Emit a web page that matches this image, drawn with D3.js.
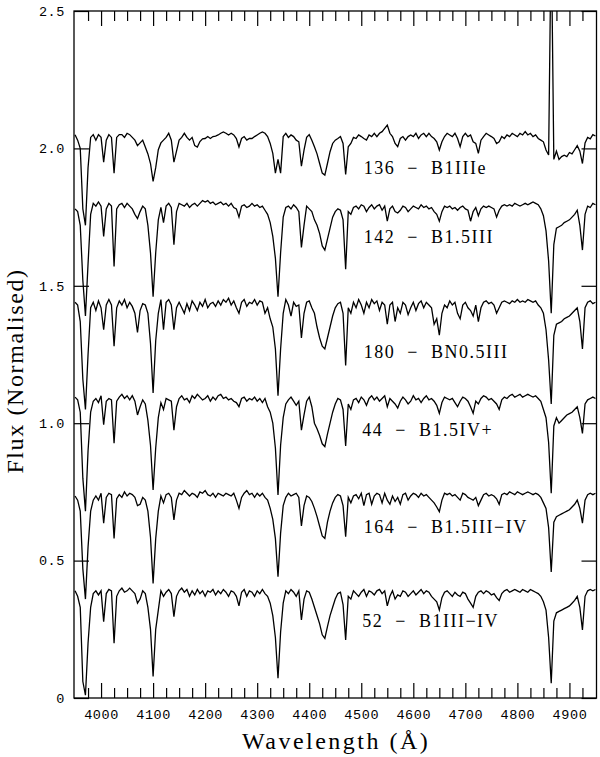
<!DOCTYPE html>
<html>
<head>
<meta charset="utf-8">
<script src="https://cdn.jsdelivr.net/npm/d3@7"></script>
<style>
html, body { margin: 0; padding: 0; background: #ffffff; }
svg { display: block; }
</style>
</head>
<body>
<svg id="chart" width="600" height="757"></svg>
<script>
// ---- DATA ----
// wavelength grid of the spectra (Angstrom), 5 A sampling
const wavelengths = d3.range(3950, 4951, 5);

const flux136 = [
2.05,2.03,2.00,1.78,1.72,1.93,2.04,2.05,2.03,2.05,
2.04,1.95,2.03,2.05,2.04,1.91,2.04,2.05,2.05,2.04,
2.055,2.05,2.04,2.03,2.01,2.02,2.03,2.005,1.98,1.945,
1.88,1.93,1.995,2.02,2.03,2.04,2.055,2.03,1.95,1.99,
2.03,2.04,2.055,2.04,2.03,2.04,2.01,2.005,2.025,2.035,
2.036,2.043,2.036,2.043,2.045,2.049,2.055,2.06,2.055,2.049,
2.055,2.049,2.036,2.005,2.036,2.043,2.03,2.036,2.036,2.043,
2.049,2.055,2.06,2.055,2.043,2.018,1.982,1.91,1.96,1.91,
2.043,2.055,2.04,2.049,2.043,2.03,2.024,1.935,1.994,2.04,
2.05,2.03,2.006,1.98,1.945,1.91,1.903,1.945,1.988,2.018,
2.03,2.036,2.043,2.018,1.905,2.006,2.018,2.04,2.036,2.049,
2.043,2.036,2.03,2.049,2.043,2.055,2.043,2.055,2.061,2.073,
2.085,2.055,2.043,2.018,2.006,2.036,2.043,2.03,2.043,2.049,
2.043,2.055,2.036,2.049,2.055,2.043,2.055,2.043,2.036,2.024,
1.994,2.024,2.043,2.055,2.049,2.043,2.055,2.036,2.006,2.043,
2.055,2.043,2.049,2.024,2.018,1.982,2.03,2.043,2.055,2.049,
2.043,2.036,2.018,2.024,2.043,2.036,2.049,2.043,2.055,2.049,
2.043,2.055,2.049,2.061,2.049,2.055,2.043,2.049,2.036,2.03,
2.024,1.994,1.976,2.80,1.96,1.99,1.96,1.97,1.975,1.97,
1.985,1.98,1.995,2.01,1.99,1.945,2.02,2.04,2.035,2.05,
2.045
];

const flux142 = [
1.78,1.77,1.72,1.52,1.39,1.58,1.76,1.80,1.79,1.805,
1.79,1.68,1.78,1.80,1.79,1.57,1.78,1.795,1.80,1.785,
1.80,1.79,1.78,1.76,1.745,1.77,1.79,1.78,1.72,1.62,
1.46,1.62,1.74,1.785,1.73,1.79,1.80,1.785,1.65,1.77,
1.80,1.795,1.79,1.80,1.785,1.795,1.80,1.79,1.80,1.81,
1.805,1.81,1.80,1.805,1.795,1.80,1.805,1.795,1.80,1.79,
1.80,1.785,1.78,1.75,1.79,1.795,1.785,1.79,1.80,1.79,
1.795,1.785,1.79,1.775,1.76,1.73,1.68,1.60,1.46,1.62,
1.75,1.785,1.79,1.78,1.795,1.785,1.77,1.64,1.72,1.79,
1.78,1.77,1.74,1.72,1.69,1.645,1.63,1.67,1.71,1.75,
1.77,1.78,1.775,1.74,1.56,1.77,1.76,1.785,1.79,1.78,
1.795,1.79,1.77,1.785,1.795,1.78,1.79,1.795,1.775,1.79,
1.735,1.78,1.79,1.77,1.765,1.775,1.79,1.785,1.77,1.78,
1.79,1.785,1.78,1.795,1.785,1.79,1.78,1.785,1.77,1.76,
1.735,1.77,1.79,1.785,1.79,1.78,1.785,1.775,1.785,1.79,
1.78,1.775,1.735,1.77,1.785,1.755,1.78,1.79,1.785,1.79,
1.785,1.78,1.75,1.775,1.79,1.795,1.79,1.795,1.79,1.80,
1.795,1.79,1.795,1.80,1.795,1.80,1.805,1.80,1.795,1.78,
1.755,1.70,1.59,1.40,1.65,1.71,1.715,1.72,1.73,1.735,
1.74,1.75,1.76,1.775,1.72,1.63,1.76,1.79,1.785,1.80,
1.795
];

const flux180 = [
1.44,1.43,1.37,1.16,1.05,1.25,1.42,1.44,1.41,1.445,
1.42,1.34,1.43,1.45,1.43,1.28,1.42,1.445,1.43,1.45,
1.42,1.44,1.425,1.40,1.33,1.41,1.435,1.43,1.40,1.29,
1.11,1.30,1.40,1.45,1.34,1.44,1.45,1.43,1.34,1.42,
1.44,1.42,1.40,1.435,1.41,1.445,1.43,1.41,1.44,1.425,
1.45,1.42,1.435,1.44,1.425,1.445,1.43,1.45,1.44,1.455,
1.43,1.445,1.42,1.40,1.44,1.45,1.425,1.44,1.435,1.45,
1.43,1.445,1.44,1.40,1.42,1.38,1.35,1.27,1.10,1.27,
1.40,1.45,1.43,1.39,1.44,1.425,1.43,1.31,1.40,1.44,
1.445,1.42,1.40,1.35,1.31,1.28,1.27,1.31,1.35,1.39,
1.42,1.435,1.44,1.40,1.21,1.42,1.40,1.44,1.42,1.45,
1.43,1.40,1.44,1.42,1.45,1.435,1.445,1.41,1.44,1.43,
1.36,1.43,1.44,1.37,1.42,1.40,1.44,1.43,1.395,1.42,
1.44,1.41,1.435,1.445,1.42,1.44,1.43,1.42,1.36,1.38,
1.32,1.40,1.43,1.42,1.445,1.43,1.44,1.40,1.38,1.43,
1.44,1.42,1.41,1.39,1.43,1.37,1.42,1.44,1.445,1.435,
1.44,1.43,1.40,1.42,1.44,1.445,1.44,1.435,1.445,1.44,
1.45,1.44,1.445,1.44,1.45,1.445,1.44,1.445,1.43,1.42,
1.40,1.34,1.23,1.07,1.32,1.36,1.365,1.37,1.38,1.385,
1.39,1.40,1.41,1.42,1.37,1.27,1.42,1.44,1.445,1.435,
1.44
];

const flux44 = [
1.095,1.085,1.04,0.80,0.68,0.90,1.04,1.08,1.09,1.075,
1.10,0.995,1.08,1.09,1.085,0.927,1.08,1.095,1.105,1.09,
1.10,1.085,1.10,1.08,1.03,1.06,1.085,1.07,1.01,0.92,
0.757,0.91,1.02,1.075,1.05,1.09,1.085,1.08,0.975,1.06,
1.09,1.10,1.085,1.09,1.075,1.10,1.09,1.105,1.095,1.085,
1.09,1.10,1.08,1.095,1.085,1.10,1.105,1.09,1.095,1.085,
1.09,1.08,1.075,1.06,1.09,1.095,1.08,1.09,1.085,1.095,
1.08,1.09,1.075,1.09,1.06,1.04,1.00,0.91,0.739,0.92,
1.02,1.07,1.085,1.095,1.08,1.065,1.08,0.975,1.03,1.08,
1.095,1.06,1.00,0.98,0.955,0.925,0.915,0.96,1.00,1.04,
1.07,1.09,1.085,1.05,0.917,1.07,1.05,1.085,1.09,1.075,
1.095,1.085,1.065,1.09,1.10,1.085,1.095,1.08,1.09,1.10,
1.06,1.09,1.08,1.07,1.055,1.08,1.095,1.085,1.07,1.08,
1.10,1.085,1.09,1.075,1.09,1.10,1.085,1.09,1.08,1.065,
1.036,1.075,1.095,1.09,1.085,1.09,1.075,1.06,1.08,1.095,
1.09,1.08,1.06,1.036,1.08,1.07,1.09,1.10,1.095,1.085,
1.09,1.08,1.07,1.05,1.085,1.095,1.09,1.10,1.105,1.095,
1.10,1.105,1.095,1.10,1.105,1.10,1.095,1.10,1.09,1.08,
1.05,1.02,0.93,0.745,0.99,1.02,1.00,1.01,1.02,1.03,
1.035,1.04,1.05,1.06,1.02,0.963,1.07,1.085,1.09,1.095,
1.09
];

const flux164 = [
0.735,0.72,0.68,0.47,0.36,0.55,0.68,0.72,0.735,0.72,
0.745,0.636,0.73,0.745,0.74,0.581,0.725,0.74,0.73,0.75,
0.735,0.745,0.74,0.73,0.70,0.705,0.73,0.72,0.68,0.585,
0.417,0.58,0.68,0.735,0.71,0.74,0.745,0.73,0.648,0.72,
0.745,0.74,0.755,0.745,0.735,0.745,0.74,0.73,0.75,0.745,
0.755,0.74,0.735,0.745,0.73,0.745,0.74,0.735,0.745,0.74,
0.735,0.745,0.72,0.69,0.73,0.745,0.755,0.74,0.745,0.73,
0.745,0.735,0.745,0.73,0.72,0.69,0.65,0.58,0.441,0.60,
0.70,0.73,0.745,0.735,0.74,0.745,0.73,0.626,0.70,0.735,
0.73,0.715,0.69,0.66,0.625,0.59,0.581,0.64,0.68,0.71,
0.73,0.74,0.735,0.70,0.587,0.73,0.71,0.735,0.74,0.725,
0.745,0.70,0.74,0.745,0.705,0.735,0.745,0.74,0.71,0.745,
0.72,0.705,0.735,0.715,0.73,0.705,0.74,0.745,0.72,0.735,
0.745,0.74,0.73,0.745,0.735,0.74,0.73,0.72,0.71,0.695,
0.678,0.72,0.745,0.74,0.745,0.735,0.74,0.73,0.72,0.745,
0.74,0.73,0.725,0.72,0.73,0.70,0.72,0.74,0.745,0.735,
0.74,0.735,0.725,0.705,0.74,0.745,0.74,0.75,0.745,0.74,
0.75,0.745,0.74,0.745,0.75,0.745,0.74,0.745,0.74,0.73,
0.71,0.69,0.62,0.459,0.64,0.66,0.665,0.67,0.675,0.68,
0.685,0.695,0.705,0.72,0.69,0.636,0.72,0.74,0.745,0.74,
0.745
];

const flux52 = [
0.39,0.37,0.33,0.06,0.01,0.20,0.33,0.38,0.39,0.375,
0.39,0.278,0.38,0.395,0.39,0.199,0.37,0.39,0.40,0.385,
0.39,0.40,0.39,0.38,0.345,0.36,0.39,0.38,0.33,0.25,
0.078,0.25,0.32,0.39,0.37,0.385,0.395,0.38,0.296,0.37,
0.39,0.40,0.385,0.395,0.37,0.39,0.375,0.395,0.38,0.39,
0.37,0.39,0.385,0.395,0.375,0.39,0.38,0.395,0.385,0.37,
0.39,0.385,0.37,0.335,0.385,0.395,0.37,0.39,0.385,0.37,
0.39,0.38,0.395,0.38,0.37,0.345,0.30,0.22,0.072,0.24,
0.345,0.39,0.38,0.395,0.385,0.37,0.39,0.284,0.36,0.39,
0.385,0.36,0.33,0.30,0.27,0.23,0.217,0.26,0.30,0.33,
0.36,0.38,0.385,0.34,0.211,0.37,0.36,0.39,0.38,0.37,
0.385,0.395,0.37,0.39,0.385,0.375,0.39,0.395,0.38,0.39,
0.335,0.37,0.39,0.36,0.375,0.37,0.39,0.385,0.37,0.38,
0.39,0.375,0.385,0.395,0.38,0.39,0.385,0.37,0.36,0.35,
0.32,0.365,0.385,0.39,0.38,0.37,0.385,0.375,0.37,0.385,
0.38,0.36,0.345,0.33,0.37,0.385,0.39,0.38,0.39,0.385,
0.375,0.38,0.365,0.355,0.38,0.39,0.395,0.385,0.39,0.395,
0.39,0.385,0.395,0.39,0.385,0.395,0.39,0.385,0.38,0.37,
0.35,0.32,0.22,0.054,0.28,0.31,0.315,0.32,0.325,0.33,
0.335,0.345,0.355,0.37,0.33,0.248,0.37,0.39,0.395,0.39,
0.395
];

const seriesFlux = [flux136, flux142, flux180, flux44, flux164, flux52];
const seriesLabels = ["136  \u2212  B1IIIe", "142  \u2212  B1.5III", "180  \u2212  BN0.5III",
                      "44  \u2212  B1.5IV+", "164  \u2212  B1.5III\u2212IV", "52  \u2212  B1III\u2212IV"];
// label anchor in data units
const labelWavelength = [4505, 4505, 4505, 4502, 4505, 4502];
const labelFlux = [1.907, 1.656, 1.237, 0.953, 0.600, 0.258];

const xMajorTicks = [4000, 4100, 4200, 4300, 4400, 4500, 4600, 4700, 4800, 4900];
const xMinorTicks = d3.range(3975, 4950, 25).filter(v => v % 100 !== 0);
const yTicks = [0, 0.5, 1.0, 1.5, 2.0, 2.5];
const yTickLabels = ["0", "0.5", "1.0", "1.5", "2.0", "2.5"];
const xTitle = "Wavelength (\u00C5)";
const yTitle = "Flux (Normalised)";

// ---- LAYOUT ----
const L = 74, R = 596.5, T = 11, B = 698;
const svg = d3.select("#chart");
const x = d3.scaleLinear().domain([3948, 4952]).range([L, R]);
const y = d3.scaleLinear().domain([0, 2.5]).range([B, T]);

svg.append("rect").attr("width", 600).attr("height", 757).attr("fill", "#fff");

svg.append("defs").append("clipPath").attr("id", "plotclip")
  .append("rect").attr("x", L).attr("y", T).attr("width", R - L).attr("height", B - T);

// spectra
const line = d3.line()
  .x((d, i) => x(wavelengths[i]))
  .y(d => y(d));

const g = svg.append("g").attr("clip-path", "url(#plotclip)");
seriesFlux.forEach(f => {
  g.append("path")
    .datum(f)
    .attr("d", line)
    .attr("fill", "none")
    .attr("stroke", "#000")
    .attr("stroke-width", 1.3)
    .attr("stroke-linejoin", "miter");
});

// axes
const tickFont = "'Liberation Mono', 'DejaVu Sans Mono', monospace";
function styleAxis(sel) {
  sel.select(".domain").remove();
  sel.selectAll(".tick line").attr("stroke", "#000").attr("stroke-width", 1.2);
  sel.selectAll(".tick text").attr("fill", "#000")
    .style("font-family", tickFont).style("font-size", "13.5px").style("letter-spacing", "0.6px");
}

svg.append("g").attr("transform", `translate(0,${B})`)
  .call(d3.axisBottom(x).tickValues(xMajorTicks).tickSize(-15).tickPadding(11).tickFormat(d3.format("d")))
  .call(styleAxis);
svg.append("g").attr("transform", `translate(0,${B})`)
  .call(d3.axisBottom(x).tickValues(xMinorTicks).tickSize(-10).tickFormat(""))
  .call(styleAxis);
svg.append("g").attr("transform", `translate(0,${T})`)
  .call(d3.axisTop(x).tickValues(xMajorTicks).tickSize(-15).tickFormat(""))
  .call(styleAxis);
svg.append("g").attr("transform", `translate(0,${T})`)
  .call(d3.axisTop(x).tickValues(xMinorTicks).tickSize(-10).tickFormat(""))
  .call(styleAxis);
svg.append("g").attr("transform", `translate(${L},0)`)
  .call(d3.axisLeft(y).tickValues(yTicks).tickSize(-15).tickPadding(9)
        .tickFormat((d, i) => yTickLabels[i]))
  .call(styleAxis);
svg.append("g").attr("transform", `translate(${R},0)`)
  .call(d3.axisRight(y).tickValues(yTicks).tickSize(-15).tickFormat(""))
  .call(styleAxis);

// frame
svg.append("rect").attr("x", L).attr("y", T).attr("width", R - L).attr("height", B - T)
  .attr("fill", "none").attr("stroke", "#000").attr("stroke-width", 1.3);

// spectrum labels
const serif = "'Liberation Serif', 'DejaVu Serif', serif";
svg.append("g").selectAll("text").data(seriesLabels).join("text")
  .attr("x", (d, i) => x(labelWavelength[i]))
  .attr("y", (d, i) => y(labelFlux[i]))
  .attr("fill", "#000")
  .style("font-family", serif).style("font-size", "18px")
  .style("letter-spacing", "1.5px").style("white-space", "pre")
  .attr("xml:space", "preserve")
  .text(d => d);

// axis titles
svg.append("text")
  .attr("x", 242).attr("y", 749)
  .attr("fill", "#000")
  .style("font-family", serif).style("font-size", "24px").style("letter-spacing", "2.5px")
  .text(xTitle);

svg.append("text")
  .attr("transform", "translate(23,371) rotate(-90)")
  .attr("text-anchor", "middle")
  .attr("fill", "#000")
  .style("font-family", serif).style("font-size", "24px").style("letter-spacing", "1.6px")
  .text(yTitle);
</script>
</body>
</html>
